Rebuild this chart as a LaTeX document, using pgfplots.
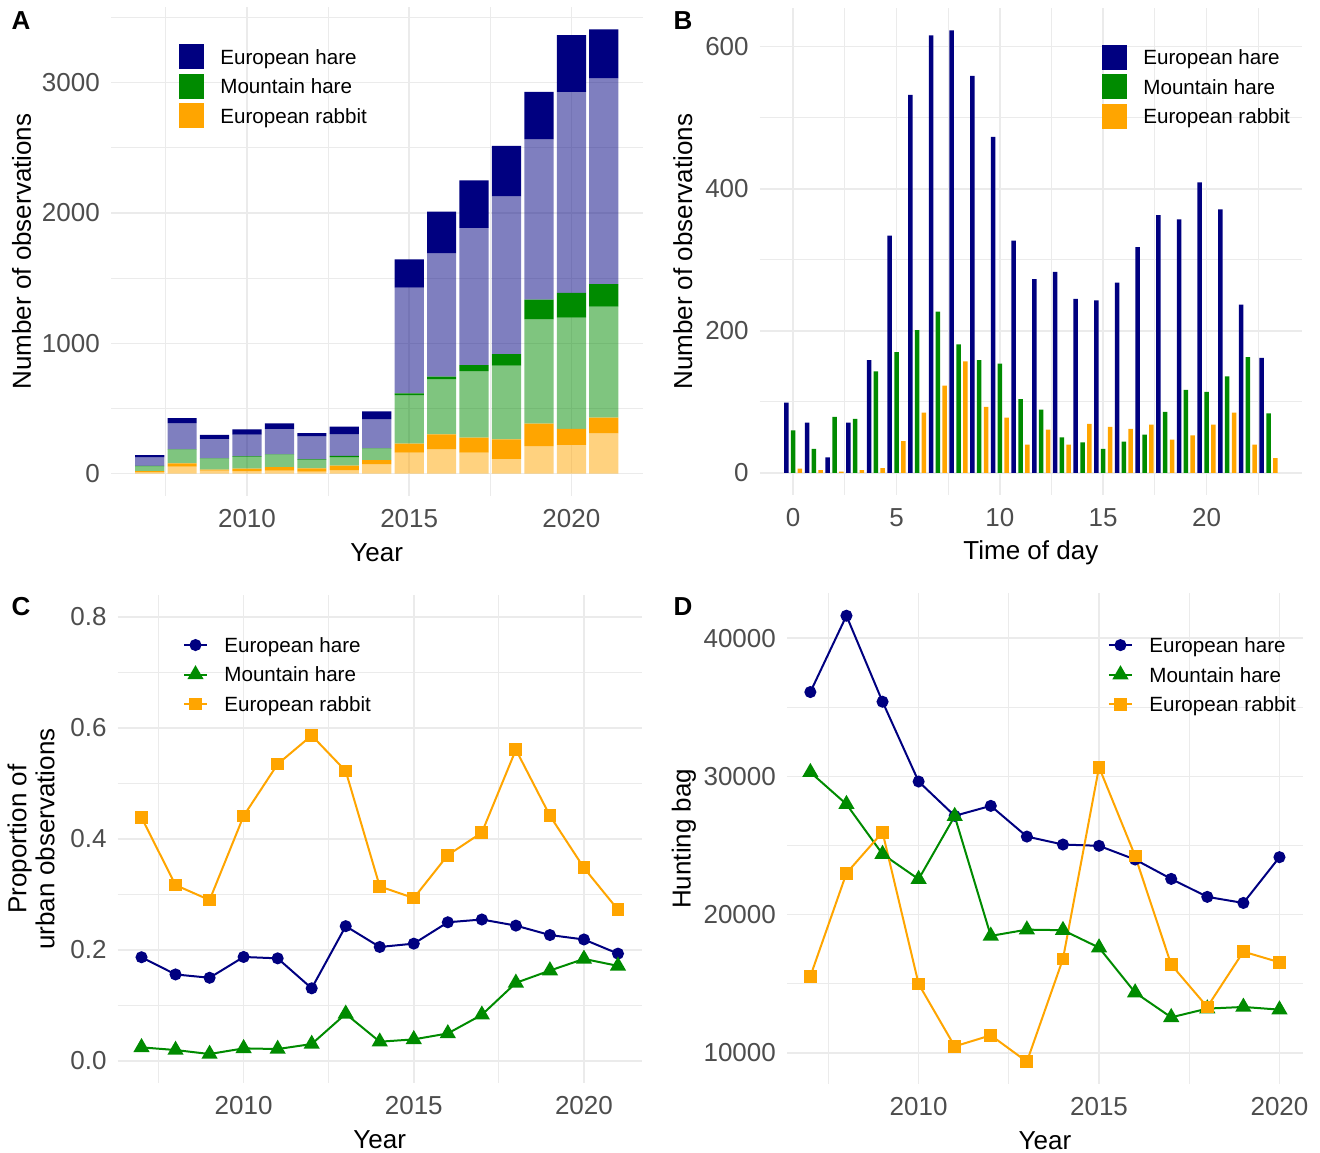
\documentclass[border=0pt]{standalone}
\usepackage{fontspec}
\setmainfont{Liberation Sans}
\usepackage{pgfplots}
\pgfplotsset{compat=1.18}
\definecolor{hare}{HTML}{000080}
\definecolor{mt}{HTML}{008B00}
\definecolor{rab}{HTML}{FFA500}
\definecolor{gridc}{HTML}{EBEBEB}
\definecolor{tickc}{HTML}{4D4D4D}
\pgfplotsset{
 panel/.style={
  scale only axis,
  axis line style={draw=none},
  major tick length=0pt, minor tick length=0pt,
  xmajorgrids, ymajorgrids, xminorgrids, yminorgrids,
  major grid style={draw=gridc, line width=0.75pt},
  minor grid style={draw=gridc, line width=0.45pt},
  tick label style={font=\fontsize{13}{15}\selectfont, text=tickc},
  xticklabel style={yshift=-3pt},
  yticklabel style={xshift=-2pt},
  label style={font=\fontsize{13}{15}\selectfont},
  /pgf/number format/assume math mode=true,
  /pgf/number format/1000 sep={},
  scaled ticks=false,
  legend style={draw=none, fill=none, inner sep=0pt, outer sep=0pt,
    font=\fontsize{10.3}{12}\selectfont,
    nodes={inner sep=0pt, text height=7.4pt, text depth=0pt},
    row sep=0pt,
    /tikz/every odd column/.append style={column sep=8.2pt}},
  legend cell align=left,
 },
 sqleg/.style={legend image code/.code={\path[draw=none,fill=none] (0pt,-7.375pt) rectangle (12.5pt,7.375pt); \fill[##1] (0pt,-6.25pt) rectangle (12.5pt,6.25pt);}},
 lnleg/.style={legend image code/.code={\path[draw=none,fill=none] (0pt,-7.375pt) rectangle (11.5pt,7.375pt); \draw[mark repeat=2,mark phase=2,##1] plot coordinates {(0pt,0pt) (5.75pt,0pt) (11.5pt,0pt)};}},
}
\begin{document}
\begin{tikzpicture}
\useasboundingbox (0pt,0pt) rectangle (660pt,-576pt);
% ---------------- A
\begin{axis}[panel, at={(55.45pt,-247.95pt)}, anchor=south west, width=265.85pt, height=244.35pt,
 ybar stacked, bar width=14.6pt, sqleg,
 xmin=2005.805, xmax=2022.195, ymin=-170.45, ymax=3579.45,
 xtick={2010,2015,2020}, minor xtick={2007.5,2012.5,2017.5},
 ytick={0,1000,2000,3000}, minor ytick={500,1500,2500,3500},
 xlabel={Year}, ylabel={Number of observations},
 xlabel style={at={(axis description cs:0.5,-0.1332)},anchor=base},
 ylabel style={at={(axis description cs:-0.1503,0.5)},anchor=base},
 legend style={at={(axis description cs:0.128,0.9283)},anchor=north west},
]
\addlegendimage{fill=hare,draw=none}
\addlegendimage{fill=mt,draw=none}
\addlegendimage{fill=rab,draw=none}
% rabbit, non-urban
\addplot[fill=rab, fill opacity=0.5, draw=none] coordinates {(2007,10) (2008,54) (2009,23) (2010,20) (2011,23) (2012,15) (2013,28) (2014,72) (2015,161) (2016,189) (2017,161) (2018,113) (2019,212) (2020,222) (2021,309)};
% rabbit, urban
\addplot[fill=rab, draw=none] coordinates {(2007,10) (2008,25) (2009,8) (2010,18) (2011,28) (2012,26) (2013,33) (2014,33) (2015,69) (2016,113) (2017,115) (2018,150) (2019,172) (2020,121) (2021,121)};
% mountain hare, non-urban
\addplot[fill=mt, fill opacity=0.5, draw=none] coordinates {(2007,38) (2008,105) (2009,84) (2010,92) (2011,95) (2012,66) (2013,64) (2014,87) (2015,373) (2016,422) (2017,512) (2018,566) (2019,800) (2020,854) (2021,851)};
% mountain hare, urban
\addplot[fill=mt, draw=none] coordinates {(2007,2) (2008,2) (2009,2) (2010,3) (2011,2) (2012,3) (2013,11) (2014,2) (2015,13) (2016,20) (2017,46) (2018,89) (2019,151) (2020,191) (2021,174)};
% european hare, non-urban
\addplot[fill=hare, fill opacity=0.5, draw=none] coordinates {(2007,68) (2008,203) (2009,151) (2010,166) (2011,195) (2012,176) (2013,168) (2014,225) (2015,811) (2016,949) (2017,1053) (2018,1209) (2019,1232) (2020,1542) (2021,1578)};
% european hare, urban
\addplot[fill=hare, draw=none] coordinates {(2007,15) (2008,38) (2009,29) (2010,41) (2011,43) (2012,26) (2013,57) (2014,59) (2015,217) (2016,317) (2017,363) (2018,389) (2019,363) (2020,435) (2021,376)};
\legend{European hare,Mountain hare,European rabbit}
\end{axis}
% ---------------- B
\begin{axis}[panel, at={(379.85pt,-247.55pt)}, anchor=south west, width=271.15pt, height=243.45pt,
 ybar, bar width=2.25pt, sqleg,
 xmin=-1.62, xmax=24.62, ymin=-31.15, ymax=654.15,
 xtick={0,5,10,15,20}, minor xtick={2.5,7.5,12.5,17.5,22.5},
 ytick={0,200,400,600}, minor ytick={100,300,500},
 xlabel={Time of day}, ylabel={Number of observations},
 xlabel style={at={(axis description cs:0.5,-0.1332)},anchor=base},
 ylabel style={at={(axis description cs:-0.1248,0.5)},anchor=base},
 legend style={at={(axis description cs:0.6312,0.9296)},anchor=north west},
]
\addlegendimage{fill=hare,draw=none}
\addlegendimage{fill=mt,draw=none}
\addlegendimage{fill=rab,draw=none}
\addplot[fill=hare, draw=none, bar shift=-3.4pt] coordinates {(0,99) (1,71) (2,22) (3,71) (4,159) (5,334) (6,532) (7,616) (8,623) (9,559) (10,473) (11,327) (12,273) (13,283) (14,245) (15,243) (16,268) (17,318) (18,363) (19,357) (20,409) (21,371) (22,237) (23,162)};
\addplot[fill=mt, draw=none, bar shift=0pt] coordinates {(0,60) (1,34) (2,79) (3,76) (4,143) (5,170) (6,201) (7,227) (8,181) (9,159) (10,154) (11,104) (12,89) (13,50) (14,43) (15,34) (16,44) (17,54) (18,86) (19,117) (20,114) (21,136) (22,163) (23,84)};
\addplot[fill=rab, draw=none, bar shift=3.4pt] coordinates {(0,6) (1,4) (2,2) (3,4) (4,7) (5,45) (6,85) (7,123) (8,157) (9,93) (10,78) (11,40) (12,61) (13,40) (14,69) (15,65) (16,62) (17,68) (18,47) (19,53) (20,68) (21,85) (22,40) (23,21)};
\legend{European hare,Mountain hare,European rabbit}
\end{axis}
% ---------------- C
\begin{axis}[panel, lnleg, at={(58.85pt,-541.6pt)}, anchor=south west, width=262.05pt, height=244.2pt,
 xmin=2006.3, xmax=2021.7, ymin=-0.04, ymax=0.84,
 xtick={2010,2015,2020}, minor xtick={2007.5,2012.5,2017.5},
 ytick={0,0.2,0.4,0.6,0.8}, minor ytick={0.1,0.3,0.5,0.7},
 yticklabel style={/pgf/number format/fixed, /pgf/number format/fixed zerofill, /pgf/number format/precision=1},
 xlabel={Year}, ylabel={Proportion of\\urban observations},
 xlabel style={at={(axis description cs:0.5,-0.1332)},anchor=base},
 ylabel style={at={(axis description cs:-0.1654,0.5)},anchor=center,align=center,font=\fontsize{13}{14}\selectfont},
 legend style={at={(axis description cs:0.1246,0.9274)},anchor=north west},
]
\addplot[color=hare, line width=1pt, mark=*, mark size=2.5pt, mark options={draw=none,fill=hare}] coordinates {(2007,0.187) (2008,0.156) (2009,0.150) (2010,0.1875) (2011,0.185) (2012,0.131) (2013,0.243) (2014,0.2055) (2015,0.2115) (2016,0.250) (2017,0.255) (2018,0.244) (2019,0.227) (2020,0.219) (2021,0.1935)};
\addplot[color=mt, line width=1pt, mark=triangle*, mark size=3.7pt, mark options={draw=none,fill=mt}] coordinates {(2007,0.0246) (2008,0.0198) (2009,0.0126) (2010,0.0228) (2011,0.0216) (2012,0.0306) (2013,0.085) (2014,0.0348) (2015,0.039) (2016,0.0497) (2017,0.0833) (2018,0.1408) (2019,0.163) (2020,0.184) (2021,0.1714)};
\addplot[color=rab, line width=1pt, mark=square*, mark size=2.7pt, mark options={draw=none,fill=rab}] coordinates {(2007,0.4386) (2008,0.317) (2009,0.290) (2010,0.4416) (2011,0.535) (2012,0.5866) (2013,0.5225) (2014,0.3146) (2015,0.2936) (2016,0.371) (2017,0.4116) (2018,0.561) (2019,0.442) (2020,0.348) (2021,0.2726)};
\legend{European hare,Mountain hare,European rabbit}
\end{axis}
% ---------------- D
\begin{axis}[panel, lnleg, at={(393.45pt,-542pt)}, anchor=south west, width=258pt, height=245.3pt,
 xmin=2006.35, xmax=2020.65, ymin=7757, ymax=43232,
 xtick={2010,2015,2020}, minor xtick={2007.5,2012.5,2017.5},
 ytick={10000,20000,30000,40000}, minor ytick={15000,25000,35000},
 xlabel={Year}, ylabel={Hunting bag},
 xlabel style={at={(axis description cs:0.5,-0.1325)},anchor=base},
 ylabel style={at={(axis description cs:-0.1865,0.5)},anchor=base},
 legend style={at={(axis description cs:0.6222,0.9247)},anchor=north west},
]
\addplot[color=hare, line width=1pt, mark=*, mark size=2.5pt, mark options={draw=none,fill=hare}] coordinates {(2007,36100) (2008,41620) (2009,35400) (2010,29630) (2011,27150) (2012,27870) (2013,25650) (2014,25075) (2015,24980) (2016,23990) (2017,22590) (2018,21290) (2019,20850) (2020,24160)};
\addplot[color=mt, line width=1pt, mark=triangle*, mark size=3.7pt, mark options={draw=none,fill=mt}] coordinates {(2007,30300) (2008,27990) (2009,24380) (2010,22570) (2011,27125) (2012,18470) (2013,18920) (2014,18880) (2015,17620) (2016,14370) (2017,12580) (2018,13210) (2019,13330) (2020,13135)};
\addplot[color=rab, line width=1pt, mark=square*, mark size=2.7pt, mark options={draw=none,fill=rab}] coordinates {(2007,15550) (2008,23000) (2009,25970) (2010,14990) (2011,10480) (2012,11280) (2013,9370) (2014,16800) (2015,30670) (2016,24250) (2017,16390) (2018,13330) (2019,17330) (2020,16560)};
\legend{European hare,Mountain hare,European rabbit}
\end{axis}
% panel letters
\node[font=\bfseries\fontsize{13}{15}\selectfont] at (10.5pt,-10.5pt) {A};
\node[font=\bfseries\fontsize{13}{15}\selectfont] at (341.5pt,-10.5pt) {B};
\node[font=\bfseries\fontsize{13}{15}\selectfont] at (10.5pt,-303.5pt) {C};
\node[font=\bfseries\fontsize{13}{15}\selectfont] at (341.5pt,-303.5pt) {D};
\end{tikzpicture}
\end{document}
